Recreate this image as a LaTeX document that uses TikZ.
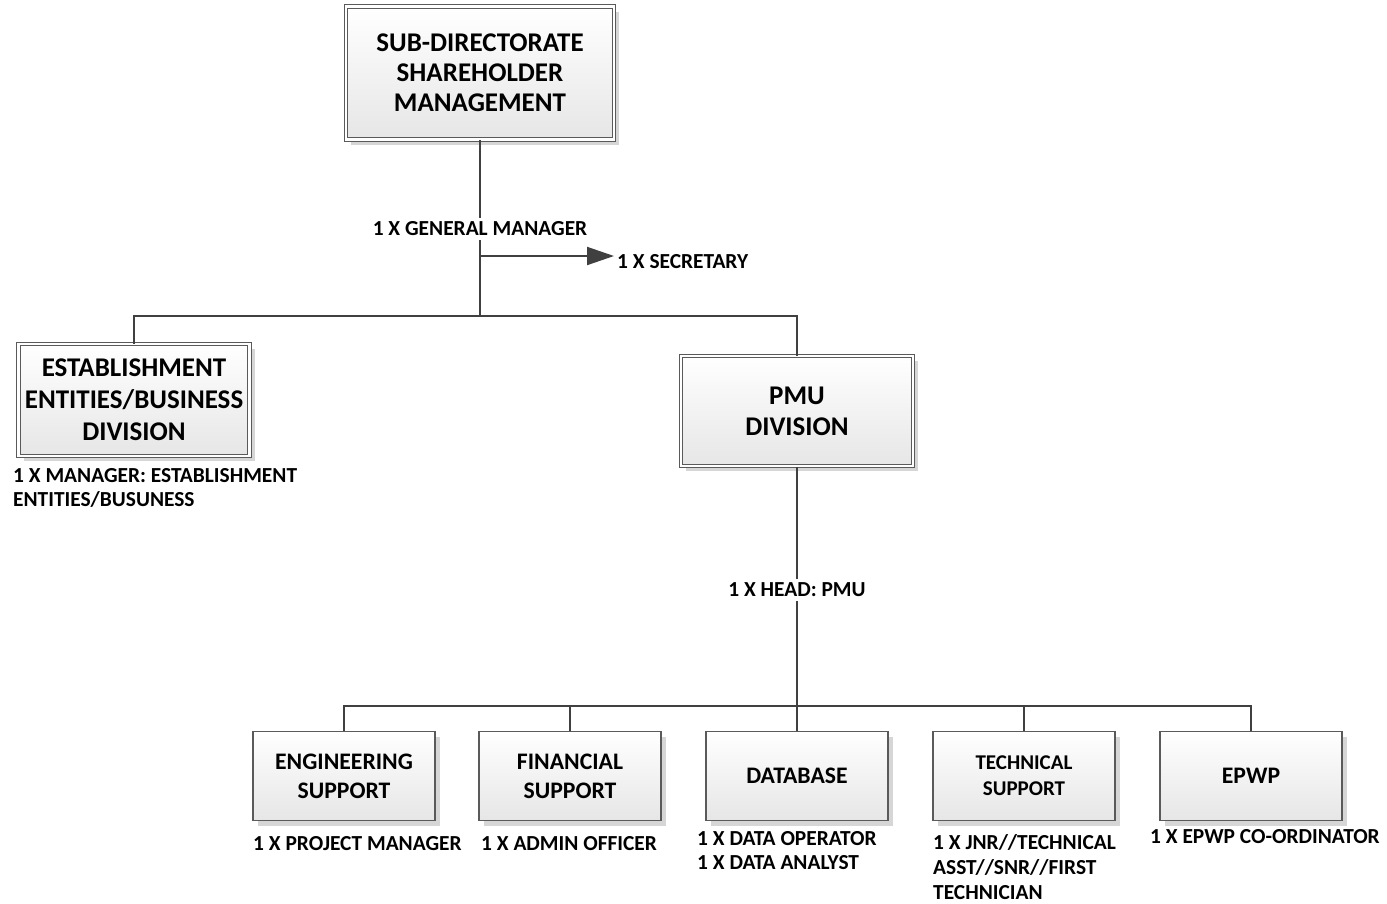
\documentclass[tikz,border=0pt]{standalone}
\usepackage{fontspec}
\setmainfont{Carlito}
\usetikzlibrary{shadows,arrows.meta}

\definecolor{linecol}{HTML}{404040}
\definecolor{boxline}{HTML}{5A5A5A}
\definecolor{boxfill}{HTML}{E6E6E6}
\definecolor{shade}{HTML}{D6D6D6}

\begin{document}
\begin{tikzpicture}[x=1pt, y=-1pt,
  link/.style={draw=linecol, line width=2pt},
  headbox/.style={draw=boxline, line width=1pt, double=white, double distance=2.6pt,
    top color=white, bottom color=boxfill, align=center,
    drop shadow={shadow xshift=5pt, shadow yshift=-5pt, fill=shade, opacity=1},
    font=\fontsize{27}{31}\selectfont\bfseries},
  unitbox/.style={draw=boxline, line width=1.2pt, top color=white, bottom color=boxfill,
    align=center, minimum width=182pt, minimum height=89pt, inner sep=0pt,
    drop shadow={shadow xshift=5pt, shadow yshift=-5pt, fill=shade, opacity=1},
    font=\fontsize{23.7}{29}\selectfont\bfseries},
  staff/.style={align=left, inner sep=0pt, font=\fontsize{21.4}{24.8}\selectfont\bfseries},
  post/.style={fill=white, inner xsep=2pt, inner ysep=4pt, font=\fontsize{21.4}{24}\selectfont\bfseries}
]
\useasboundingbox (0,0) rectangle (1387,903);

% top of the tree
\node[headbox, minimum width=268pt, minimum height=133pt,
  font=\fontsize{27}{30}\selectfont\bfseries] (top) at (480,73)
  {SUB-DIRECTORATE\\SHAREHOLDER\\MANAGEMENT};
\node[headbox, minimum width=231pt, minimum height=112pt, inner sep=0pt,
  font=\fontsize{27}{32}\selectfont\bfseries] (estab) at (134,400)
  {ESTABLISHMENT\\ENTITIES/BUSINESS\\DIVISION};
\node[headbox, minimum width=232pt, minimum height=110pt, inner sep=0pt] (pmu) at (797,411)
  {PMU\\DIVISION};

\coordinate (topdrop) at (480,316);
\coordinate (secfork) at (480,256);
\coordinate (secend) at (614,256);
\coordinate (pmudrop) at (797,706);

\draw[link] (top.south) -- (topdrop);
\draw[link] (estab.north) |- (topdrop) -| (pmu.north);
\draw[link, -{Triangle[length=27pt, width=18pt]}] (secfork) -- (secend);
\node[staff, anchor=west] (sec) at (617,262) {1 X SECRETARY};
\node[post] (gm) at (480,229) {1 X GENERAL MANAGER};
\node[staff, anchor=west] (estabstaff) at (13,488)
  {1 X MANAGER: ESTABLISHMENT\\ENTITIES/BUSUNESS};

% PMU units
\node[unitbox] (eng) at (344,776) {ENGINEERING\\SUPPORT};
\node[unitbox] (fin) at (570,776) {FINANCIAL\\SUPPORT};
\node[unitbox] (db) at (797,776) {DATABASE};
\node[unitbox, font=\fontsize{21}{26}\selectfont\bfseries] (tech) at (1024,776) {TECHNICAL\\SUPPORT};
\node[unitbox] (epwp) at (1251,776) {EPWP};

\draw[link] (pmu.south) -- (pmudrop);
\foreach \unit in {eng,fin,db,tech,epwp}
  \draw[link] (pmudrop) -| (\unit.north);
\node[post] (head) at (797,590) {1 X HEAD: PMU};

\node[staff, anchor=west] (engstaff) at (253,844) {1 X PROJECT MANAGER};
\node[staff, anchor=west] (finstaff) at (481,844) {1 X ADMIN OFFICER};
\node[staff, anchor=west] (dbstaff) at (697,850.5) {1 X DATA OPERATOR\\1 X DATA ANALYST};
\node[staff, anchor=west] (techstaff) at (933,867) {1 X JNR//TECHNICAL\\ASST//SNR//FIRST\\TECHNICIAN};
\node[staff, anchor=west] (epwpstaff) at (1150,837) {1 X EPWP CO-ORDINATOR};
\end{tikzpicture}
\end{document}
